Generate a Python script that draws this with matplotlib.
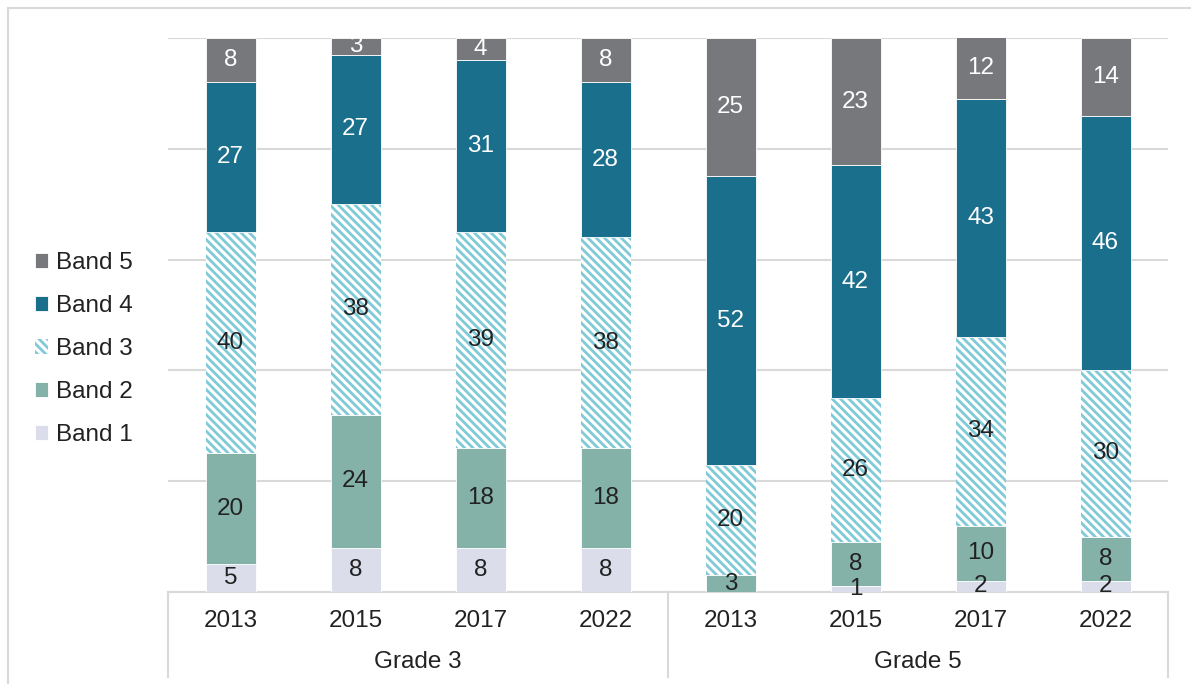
import matplotlib
matplotlib.use("Agg")
import matplotlib.pyplot as plt
from matplotlib.patches import Rectangle
from matplotlib.lines import Line2D
import matplotlib.transforms as mtransforms

plt.rcParams['font.family'] = ['Liberation Sans', 'DejaVu Sans']
plt.rcParams['hatch.linewidth'] = 2.0

# ---- data ----
years = ["2013", "2015", "2017", "2022", "2013", "2015", "2017", "2022"]
grades = ["Grade 3", "Grade 5"]
band_names = ["Band 1", "Band 2", "Band 3", "Band 4", "Band 5"]
band1 = [5, 8, 8, 8, 0, 1, 2, 2]
band2 = [20, 24, 18, 18, 3, 8, 10, 8]
band3 = [40, 38, 39, 38, 20, 26, 34, 30]
band4 = [27, 27, 31, 28, 52, 42, 43, 46]
band5 = [8, 3, 4, 8, 25, 23, 12, 14]
bands = [band1, band2, band3, band4, band5]

colors = ["#DCDDEA", "#84B1A8", "#FFFFFF", "#1A6F8D", "#77787C"]
hatch_color = "#80CAD8"
label_colors = ["#222222", "#222222", "#222222", "#FFFFFF", "#FFFFFF"]

FS = 17.5
W, H = 1191, 684
fig = plt.figure(figsize=(W / 100, H / 100), dpi=100)
ax = fig.add_axes([168 / W, 1 - 592 / H, 1000 / W, 554 / H])

x = list(range(len(years)))
bottom = [0] * len(years)
handles = []
for i, vals in enumerate(bands):
    if i == 2:
        b = ax.bar(x, vals, 0.4, bottom=bottom, color="white", edgecolor=hatch_color,
                   hatch="\\\\\\\\", linewidth=0, zorder=3, label=band_names[i])
    else:
        b = ax.bar(x, vals, 0.4, bottom=bottom, color=colors[i], edgecolor="white",
                   linewidth=0.6, zorder=3, label=band_names[i])
    handles.append(b)
    for xi, v, bt in zip(x, vals, bottom):
        if v > 0:
            yc = min(bt + v / 2, (bt + 100) / 2)
            ax.text(xi, yc, str(v), ha="center", va="center", fontsize=FS,
                    color=label_colors[i], zorder=5)
    bottom = [a + c for a, c in zip(bottom, vals)]

ax.set_xlim(-0.5, 7.5)
ax.set_ylim(0, 100)
ax.set_yticks([0, 20, 40, 60, 80, 100])
ax.yaxis.grid(True, color="#D9D9D9", linewidth=1.5, zorder=0)
ax.set_axisbelow(True)
ax.tick_params(axis="y", left=False, labelleft=False)
ax.set_xticks(x)
ax.set_xticklabels(years, fontsize=FS, color="#222222")
ax.tick_params(axis="x", length=0, pad=13)
for s in ["left", "right", "top"]:
    ax.spines[s].set_visible(False)
ax.spines["bottom"].set_color("#D9D9D9")
ax.spines["bottom"].set_linewidth(1.5)

# group labels and separators
trans = mtransforms.blended_transform_factory(ax.transData, ax.transAxes)
ybot = -(677 - 592) / 554
for sx in [-0.5, 3.5, 7.5]:
    ax.add_line(Line2D([sx, sx], [0, ybot], transform=trans, color="#D9D9D9",
                       linewidth=1.5, clip_on=False))
for gi, g in enumerate(grades):
    ax.text(1.5 + 4 * gi, -(662 - 592) / 554, g, transform=trans, ha="center",
            va="center", fontsize=FS, color="#222222")

# legend
leg = fig.legend(handles=handles[::-1], labels=band_names[::-1], loc="center left",
                 bbox_to_anchor=(35 / W, 1 - 349 / H), frameon=False, fontsize=FS,
                 handlelength=0.55, handleheight=0.55, handletextpad=0.3,
                 labelspacing=0.86, borderaxespad=0, borderpad=0)
for t in leg.get_texts():
    t.set_color("#222222")

# figure border
fig.patches.append(Rectangle((8 / W, -0.01), 1.0, (H - 8) / H + 0.01, transform=fig.transFigure,
                             fill=False, edgecolor="#D9D9D9", linewidth=1.5))

fig.savefig("out.png", dpi=100)
